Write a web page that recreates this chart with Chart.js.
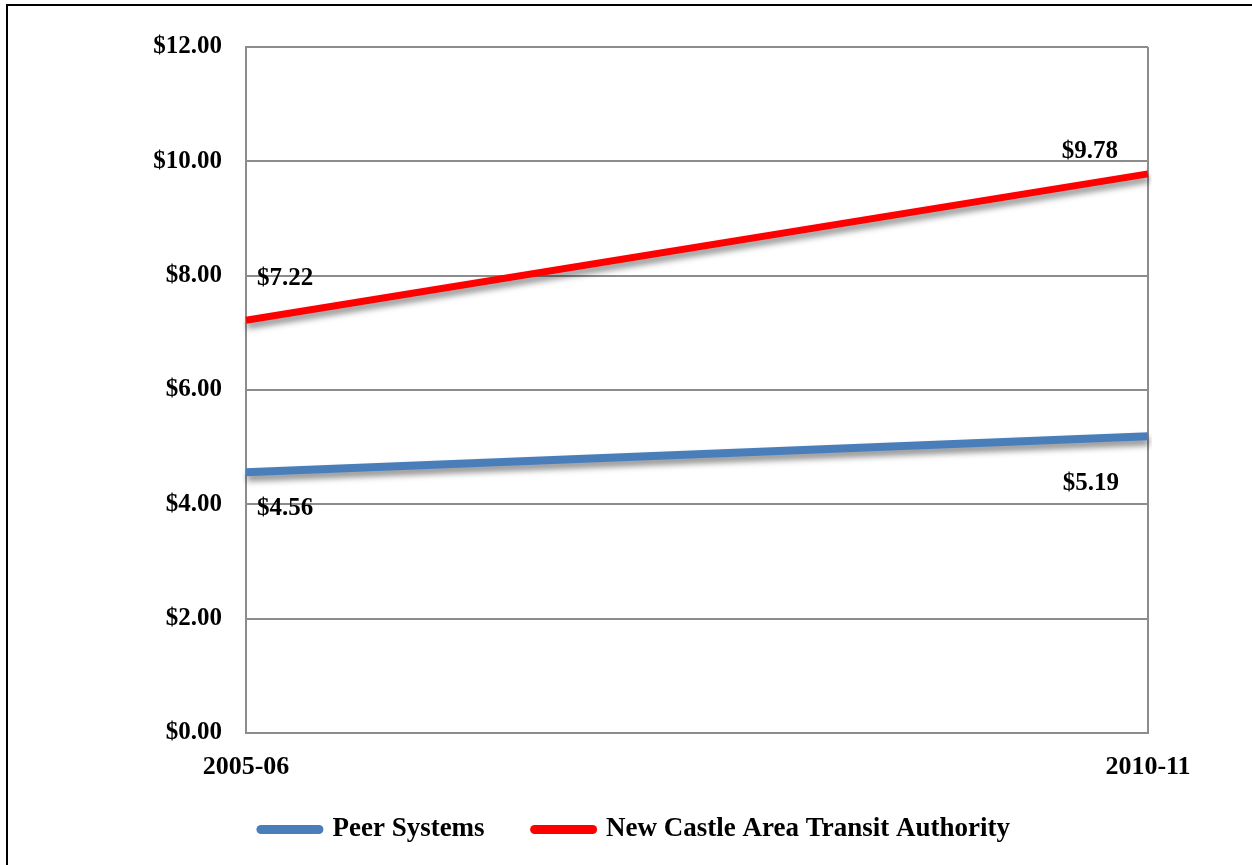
<!DOCTYPE html>
<html>
<head>
<meta charset="utf-8">
<script src="https://cdn.jsdelivr.net/npm/chart.js@4/dist/chart.umd.min.js"></script>
<style>
body { margin: 0; background: #fff; }
#frame { position: absolute; left: 6px; top: 4px; right: 0; bottom: 0; border-left: 2px solid #000; border-top: 2px solid #000; }
#wrap { position: absolute; left: 0; top: 0; width: 1252px; height: 865px; }
</style>
</head>
<body>
<div id="frame"></div>
<div id="wrap"><canvas id="costChart"></canvas></div>
<script>
const years = ["2005-06", "2010-11"];
const peerSystems = [4.56, 5.19];
const newCastle = [7.22, 9.78];
const yTicks = [0, 2, 4, 6, 8, 10, 12];

const serif = "'Liberation Serif', 'Times New Roman', serif";

// where each value label sits relative to its point (dx, dy, align)
const peerLabelPos = [[11, 36, "left"], [-29, 47, "right"]];
const ncLabelPos = [[11, -42, "left"], [-30, -22, "right"]];

const xAxisSqueeze = 36;

const money = v => "$" + v.toFixed(2);

// soft drop shadow under the lines
const lineShadow = {
  id: "lineShadow",
  beforeDatasetDraw(chart) {
    const c = chart.ctx;
    c.save();
    c.shadowColor = "rgba(0,0,0,0.45)";
    c.shadowBlur = 6;
    c.shadowOffsetX = 1;
    c.shadowOffsetY = 5;
  },
  afterDatasetDraw(chart) {
    chart.ctx.restore();
  }
};

// the x axis box was squeezed so the legend sits close; give its labels room again
const xLabelRoom = {
  id: "xLabelRoom",
  afterLayout(chart) {
    chart.scales.x.bottom += xAxisSqueeze;
  }
};

// "$x.xx" labels next to the end points
const valueLabels = {
  id: "valueLabels",
  afterDatasetsDraw(chart) {
    const c = chart.ctx;
    c.save();
    c.font = "bold 25px " + serif;
    c.fillStyle = "#000";
    c.textBaseline = "middle";
    chart.data.datasets.forEach((ds, i) => {
      const meta = chart.getDatasetMeta(i);
      meta.data.forEach((pt, j) => {
        const [dx, dy, align] = ds.labelPos[j];
        c.textAlign = align;
        c.fillText(money(ds.data[j]), pt.x + dx, pt.y + dy);
      });
    });
    c.restore();
  }
};

new Chart(document.getElementById("costChart"), {
  type: "line",
  data: {
    labels: years,
    datasets: [{
      label: "Peer Systems",
      data: peerSystems,
      borderColor: "#4a7ebb",
      backgroundColor: "#4a7ebb",
      borderWidth: 8,
      borderCapStyle: "butt",
      pointRadius: 0,
      tension: 0,
      labelPos: peerLabelPos
    }, {
      label: "New Castle Area Transit Authority",
      data: newCastle,
      borderColor: "#ff0000",
      backgroundColor: "#ff0000",
      borderWidth: 7,
      borderCapStyle: "butt",
      pointRadius: 0,
      tension: 0,
      labelPos: ncLabelPos
    }]
  },
  options: {
    responsive: true,
    maintainAspectRatio: false,
    animation: false,
    layout: { padding: { left: 123, right: 104, top: 47, bottom: 12 } },
    scales: {
      x: {
        afterFit(scale) { scale.height -= xAxisSqueeze; },
        grid: { color: "#8c8c8c", lineWidth: 2, drawTicks: false },
        border: { color: "#8c8c8c", width: 2 },
        ticks: {
          color: "#000",
          font: { family: serif, size: 26, weight: "bold" },
          padding: 19,
          maxRotation: 0
        }
      },
      y: {
        min: 0,
        max: 12,
        afterBuildTicks(scale) {
          scale.ticks = yTicks.map(v => ({ value: v }));
        },
        afterFit(scale) { scale.width = 123; },
        grid: { color: "#8c8c8c", lineWidth: 2, drawTicks: false },
        border: { color: "#8c8c8c", width: 2 },
        ticks: {
          color: "#000",
          font: { family: serif, size: 25, weight: "bold" },
          padding: 24,
          callback: v => money(v)
        }
      }
    },
    plugins: {
      legend: {
        position: "bottom",
        labels: {
          color: "#000",
          font: { family: serif, size: 27, weight: "bold" },
          usePointStyle: true,
          pointStyle: "line",
          pointStyleWidth: 58,
          boxHeight: 8,
          padding: 50,
          generateLabels(chart) {
            return chart.data.datasets.map((ds, i) => ({
              text: ds.label,
              fillStyle: ds.borderColor,
              strokeStyle: ds.borderColor,
              lineWidth: 9,
              lineCap: "round",
              pointStyle: "line",
              fontColor: "#000",
              datasetIndex: i,
              hidden: false
            }));
          }
        }
      },
      tooltip: { enabled: false }
    }
  },
  plugins: [lineShadow, xLabelRoom, valueLabels]
});
</script>
</body>
</html>
